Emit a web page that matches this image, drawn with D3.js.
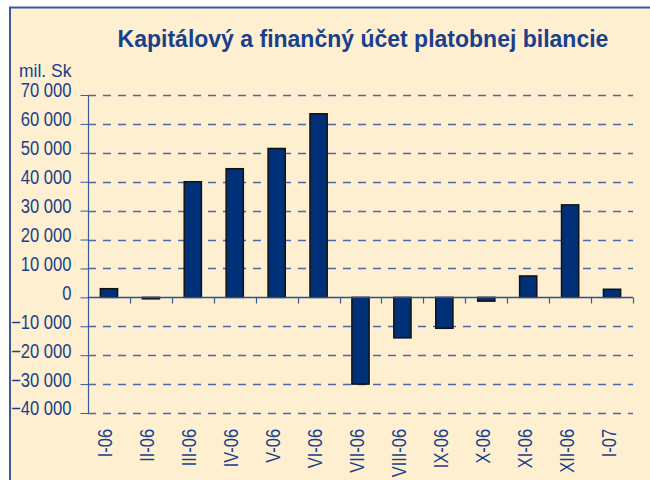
<!DOCTYPE html>
<html><head><meta charset="utf-8">
<script src="https://cdn.jsdelivr.net/npm/d3@7"></script>
<style>
html,body{margin:0;padding:0;background:#fff;}
svg{display:block;}
text{font-family:"Liberation Sans",Arial,sans-serif;}
</style></head>
<body>
<script>
const categories = ["I-06","II-06","III-06","IV-06","V-06","VI-06","VII-06","VIII-06","IX-06","X-06","XI-06","XII-06","I-07"];
const values = [3000,-500,40000,44500,51500,63500,-30000,-14000,-10700,-1300,7400,32000,2800];
const yTicks = [70000,60000,50000,40000,30000,20000,10000,0,-10000,-20000,-30000,-40000];
const title = "Kapitálový a finančný účet platobnej bilancie";
const unitLabel = "mil. Sk";

const W=650,H=480;
const svg=d3.select("body").append("svg").attr("width",W).attr("height",H);
const textColor="#1a3f8c";
svg.append("rect").attr("x",10).attr("y",7.5).attr("width",W).attr("height",H)
  .attr("fill","#fdefd0").attr("stroke","#3b5b9b").attr("stroke-width",2);

const left=88,right=633;
const x=d3.scaleBand().domain(categories).range([left,right]).paddingInner(0.59).paddingOuter(0.295);
const xb=d3.scaleBand().domain(categories).range([left,right]);
const y=d3.scaleLinear().domain([-40000,70000]).range([413,95]);
const fmt=v=>d3.format(",")(v).replace(/,/g," ");

// gridlines
svg.append("g").selectAll("line").data(yTicks.filter(d=>d!==0)).join("line")
  .attr("x1",left).attr("x2",right).attr("y1",d=>Math.round(y(d))+0.5).attr("y2",d=>Math.round(y(d))+0.5)
  .attr("stroke","#4d6aa3").attr("stroke-width",1.3).attr("stroke-dasharray","8,7");

// y axis
const yAxis=d3.axisLeft(y).tickValues(yTicks).tickFormat(fmt).tickSize(8).tickPadding(9);
const gy=svg.append("g").attr("transform",`translate(${left+0.5},0)`).call(yAxis);
gy.select(".domain").attr("stroke","#3b5b9b").attr("stroke-width",1.2).attr("d",`M0,${y(70000)}V${y(-40000)}`);
gy.selectAll(".tick line").attr("stroke","#3b5b9b");
gy.selectAll(".tick text").attr("fill",textColor).attr("font-size",19.5)
  .attr("x",0).attr("dy","0.1em").attr("transform","translate(-17,0) scale(0.85,1)");

// bars
svg.append("g").selectAll("rect").data(values).join("rect")
  .attr("x",(d,i)=>x(categories[i]))
  .attr("width",x.bandwidth())
  .attr("y",d=>y(Math.max(0,d)))
  .attr("height",d=>Math.max(1,Math.abs(y(d)-y(0))))
  .attr("fill","#003078").attr("stroke","#111").attr("stroke-width",1.5);

// x axis at zero
const y0=Math.round(y(0))+0.5;
svg.append("line").attr("x1",left).attr("x2",right).attr("y1",y0).attr("y2",y0).attr("stroke","#2b4f9a").attr("stroke-width",1.3);
svg.append("g").selectAll("line").data(categories).join("line")
  .attr("x1",d=>Math.round(xb(d)+xb.bandwidth())+0.5).attr("x2",d=>Math.round(xb(d)+xb.bandwidth())+0.5)
  .attr("y1",y0).attr("y2",y0+6).attr("stroke","#3b5b9b").attr("stroke-width",1.2);

// x labels
svg.append("g").selectAll("text").data(categories).join("text")
  .attr("transform",d=>`translate(${xb(d)+xb.bandwidth()/2+3.5},429) rotate(-90) scale(0.84,1)`)
  .attr("text-anchor","end").attr("fill",textColor).attr("font-size",19.5).text(d=>d);

// title
svg.append("text").attr("x",363).attr("y",47).attr("text-anchor","middle")
  .attr("fill",textColor).attr("font-size",23).attr("font-weight","bold").text(title);
svg.append("text").attr("x",19).attr("y",77).attr("fill",textColor).attr("font-size",17.5).text(unitLabel);
</script>
</body></html>
